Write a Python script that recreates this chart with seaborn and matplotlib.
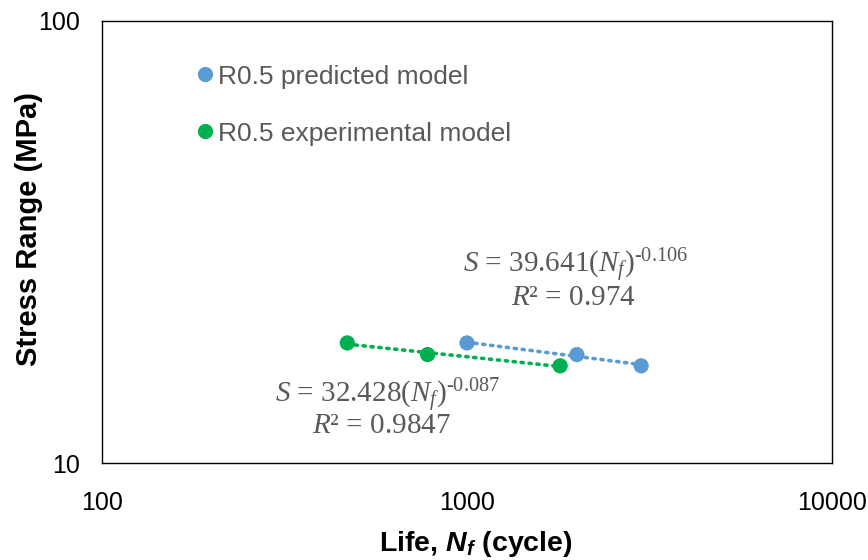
import matplotlib
matplotlib.use("Agg")
import numpy as np
import pandas as pd
import seaborn as sns
import matplotlib.pyplot as plt

# data
pred_life = [1000, 2000, 3000]
pred_stress = [18.7, 17.6, 16.6]
exp_life = [470, 780, 1800]
exp_stress = [18.7, 17.6, 16.6]
pred_label = "R0.5 predicted model"
exp_label = "R0.5 experimental model"
pred_eq = ["$S$ = 39.641($N_f$)$^{\\mathrm{\u20100.106}}$", "$R$² = 0.974"]
exp_eq = ["$S$ = 32.428($N_f$)$^{\\mathrm{\u20100.087}}$", "$R$² = 0.9847"]
x_ticks = [100, 1000, 10000]
y_ticks = [10, 100]

df = pd.DataFrame({
    "life": pred_life + exp_life,
    "stress": pred_stress + exp_stress,
    "series": [pred_label] * 3 + [exp_label] * 3,
})

sns.set_style("white")
plt.rcParams["font.family"] = ["Liberation Sans", "DejaVu Sans"]
plt.rcParams["mathtext.fontset"] = "custom"
plt.rcParams["mathtext.rm"] = "Liberation Serif"
plt.rcParams["mathtext.it"] = "Liberation Serif:italic"
plt.rcParams["mathtext.bf"] = "Liberation Sans:bold"
plt.rcParams["mathtext.bfit"] = "Liberation Sans:bold:italic"

colors = {pred_label: "#5B9BD5", exp_label: "#00B050"}

fig = plt.figure(figsize=(8.68, 5.6), dpi=100)
ax = fig.add_axes([0.1175, 0.173, 0.841, 0.7895])

# power-law trend lines (straight in log-log), fitted to the points
for lab, xs, ys in [(pred_label, pred_life, pred_stress), (exp_label, exp_life, exp_stress)]:
    lx = np.log10(xs)
    k, b = np.polyfit(lx, np.log10(ys), 1)
    ends = np.array([min(lx), max(lx)])
    ax.plot(10 ** ends, 10 ** (k * ends + b), linestyle=(0, (0.6, 1.6)),
            dash_capstyle="round", color=colors[lab], lw=2.6, zorder=2)

sns.scatterplot(data=df, x="life", y="stress", hue="series", palette=colors,
                s=120, edgecolor="none", ax=ax, zorder=3)

ax.set_xscale("log")
ax.set_yscale("log")
ax.set_xlim(100, 10000)
ax.set_ylim(10, 100)
ax.set_xticks(x_ticks)
ax.set_xticklabels([str(t) for t in x_ticks])
ax.set_yticks(y_ticks)
ax.set_yticklabels([str(t) for t in y_ticks])
ax.minorticks_off()
ax.tick_params(length=0, labelsize=18, colors="black", pad=20)
ax.tick_params(axis="y", pad=16)
for s in ax.spines.values():
    s.set_color("black")
    s.set_linewidth(1.0)

ax.set_xlabel("Life, $\\mathbfit{N_f}$ (cycle)", fontsize=20.5, fontweight="bold",
              va="center", color="black")
ax.set_ylabel("Stress Range (MPa)", fontsize=21, fontweight="bold", va="center", color="black")
ax.xaxis.set_label_coords(0.512, -0.183)
ax.yaxis.set_label_coords(-0.1, 0.529)

txt = dict(fontfamily="Liberation Serif", fontsize=21, color="#595959", ha="center", va="baseline")
ax.text(1985, 26.9, pred_eq[0], **txt)
ax.text(1960, 22.8, pred_eq[1], **txt)
ax.text(605, 13.67, exp_eq[0], **txt)
ax.text(583, 11.69, exp_eq[1], **txt)

leg = ax.legend(loc="upper left", bbox_to_anchor=(0.108, 0.925), frameon=False,
                fontsize=19, labelspacing=1.25, handletextpad=0.0, markerscale=1.0,
                handlelength=1.0, borderaxespad=0)
for t in leg.get_texts():
    t.set_color("#595959")

fig.savefig("out.png", dpi=100)
